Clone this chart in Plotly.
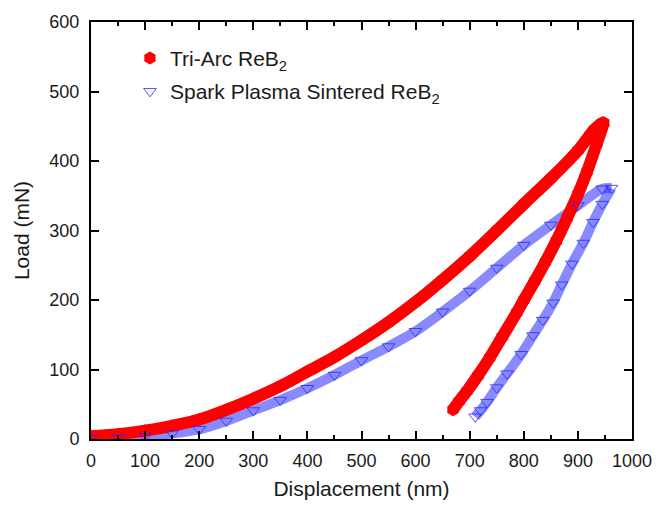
import plotly.graph_objects as go

# Tri-Arc ReB2 (loading then unloading)
tri_load_x = [0, 50, 100, 150, 200, 250, 300, 350, 400, 450, 500, 550, 600, 650, 700, 750, 800, 850, 900, 930, 945]
tri_load_y = [4, 7, 12, 19, 28, 42, 58, 76, 97, 118, 142, 168, 197, 229, 263, 300, 338, 375, 415, 445, 455]
tri_unload_x = [948, 935, 917, 900, 880, 860, 840, 820, 800, 787, 760, 737, 715, 695, 680, 669]
tri_unload_y = [455, 425, 385, 352, 318, 285, 255, 227, 200, 182, 147, 117, 91, 69, 54, 42]

# Spark Plasma Sintered ReB2
sps_load_x = [0, 50, 100, 150, 200, 250, 300, 350, 400, 450, 500, 550, 600, 650, 700, 750, 800, 850, 900, 945]
sps_load_y = [1, 2, 4, 8, 14, 26, 41, 56, 73, 92, 113, 133, 155, 183, 213, 246, 279, 308, 336, 360]
sps_unload_x = [962, 945, 928, 910, 889, 870, 854, 835, 817, 795, 769, 750, 732, 720, 710]
sps_unload_y = [361, 338, 312, 282, 252, 222, 196, 171, 149, 122, 94, 74, 53, 41, 32]

tri_x = tri_load_x + tri_unload_x
tri_y = tri_load_y + tri_unload_y
sps_x = sps_load_x + sps_unload_x
sps_y = sps_load_y + sps_unload_y

FONT = "Liberation Sans, Arial, sans-serif"
TXT = "#1a1a1a"
BLUE_BAND = "rgba(60,60,255,0.6)"
RED = "#ff0000"

fig = go.Figure()
# band lines (dense markers appearance)
for xs, ys in [(sps_load_x + [sps_unload_x[0]], sps_load_y + [sps_unload_y[0]]), (sps_unload_x, sps_unload_y)]:
    fig.add_trace(go.Scatter(x=xs, y=ys, mode="lines",
                             line=dict(color=BLUE_BAND, width=10, shape="spline", smoothing=0.8),
                             showlegend=False, hoverinfo="skip"))
for xs, ys in [(tri_load_x, tri_load_y), (tri_unload_x, tri_unload_y)]:
    fig.add_trace(go.Scatter(x=xs, y=ys, mode="lines",
                             line=dict(color=RED, width=12, shape="spline", smoothing=0.8),
                             showlegend=False, hoverinfo="skip"))
fig.add_trace(go.Scatter(x=tri_x, y=tri_y, mode="markers", name="Tri-Arc ReB<sub>2</sub>",
                         marker=dict(symbol="hexagon", size=13, color=RED, line=dict(width=0)),
                         legendgroup="a"))
fig.add_trace(go.Scatter(x=sps_x, y=sps_y, mode="markers", name="Spark Plasma Sintered ReB<sub>2</sub>",
                         marker=dict(symbol="triangle-down-open", size=11, color="rgba(40,40,255,0.8)", line=dict(width=1)),
                         legendgroup="b"))

axis_common = dict(showline=True, linecolor="black", linewidth=2, mirror="allticks",
                   ticks="inside", ticklen=8, tickwidth=2, tickcolor="black",
                   showgrid=False, zeroline=False,
                   tickfont=dict(family=FONT, size=18, color=TXT))

fig.update_xaxes(range=[0, 1000], dtick=100, tick0=0, ticklabelstandoff=4,
                 title=dict(text="Displacement (nm)", font=dict(family=FONT, size=21, color=TXT), standoff=12),
                 minor=dict(ticks="inside", ticklen=4, tickwidth=2, tickcolor="black", dtick=50),
                 **axis_common)
fig.update_yaxes(range=[0, 600], dtick=100, tick0=0, ticklabelstandoff=6,
                 title=dict(text="Load (mN)", font=dict(family=FONT, size=21, color=TXT), standoff=14),
                 **axis_common)

fig.update_layout(
    width=668, height=510,
    margin=dict(l=91, r=36, t=12, b=71),
    plot_bgcolor="white", paper_bgcolor="white",
    legend=dict(x=0.072, y=0.962, xanchor="left", yanchor="top", bgcolor="rgba(0,0,0,0)",
                font=dict(family=FONT, size=21, color=TXT), tracegroupgap=3,
                traceorder="grouped"),
)

fig.write_html("out.html")
